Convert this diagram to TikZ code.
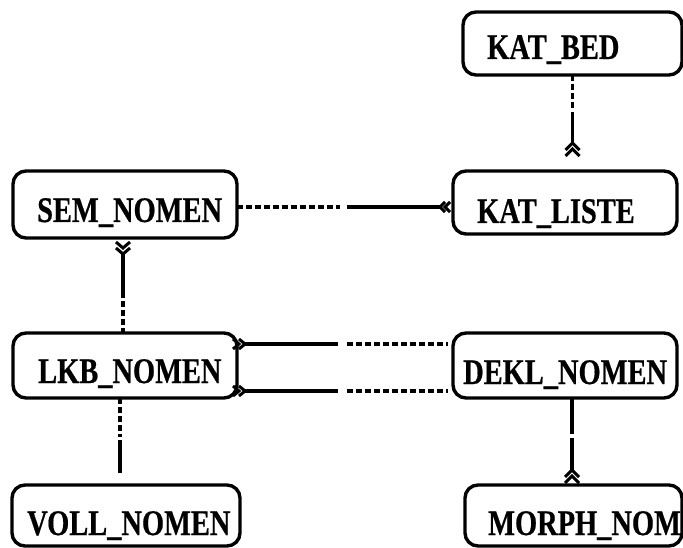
\documentclass[tikz,border=0pt]{standalone}
\usepackage{fontspec}
\usepackage{graphicx}
\newfontfamily\erfont[FakeStretch=0.79, BoldFeatures={FakeBold=0.5}]{Liberation Serif}
\usetikzlibrary{calc}

\tikzset{
  entity/.style={draw, line width=3.4pt, rounded corners=13pt, inner sep=0pt,
                 outer sep=0pt, anchor=north west},
  lbl/.style={anchor=base west, inner sep=0pt,
              font=\erfont\bfseries\fontsize{36}{40}\selectfont},
  rel/.style={line width=3.4pt},
  opt/.style={rel, dash pattern=on 6pt off 3pt},
  chev/.style={line width=3pt, line join=miter},
  % "many" ends: two stacked chevrons opening towards the entity
  pics/chevup/.style={code={
    \draw[chev] (-7,7) -- (0,0) -- (7,7);
    \draw[chev] (-7,13) -- (0,6) -- (7,13);}},
  pics/chevdown/.style={code={
    \draw[chev] (-7,-6) -- (0,0) -- (7,-6);
    \draw[chev] (-7,-12) -- (0,-6) -- (7,-12);}},
  pics/chevleft/.style={code={
    \draw[chev] (5,-5) -- (0,0) -- (5,5);
    \draw[chev] (10,-5) -- (5,0) -- (10,5);}},
  pics/chevright/.style={code={
    \draw[chev] (-6,-5) -- (0,0) -- (-6,5);
    \draw[chev] (-12,-5) -- (-6,0) -- (-12,5);}},
}

\begin{document}
\begin{tikzpicture}[x=1pt,y=-1pt]
\clip (0,0) rectangle (683,548);
\fill[white] (0,0) rectangle (683,548);

% entities
\node[entity, minimum width=219pt, minimum height=63pt] (kb)    at (463,12)  {};
\node[entity, minimum width=224pt, minimum height=63pt] (kl)    at (453,171) {};
\node[entity, minimum width=224pt, minimum height=67pt] (sem)   at (13,171)  {};
\node[entity, minimum width=224pt, minimum height=65pt] (lkb)   at (13,333)  {};
\node[entity, minimum width=224pt, minimum height=65pt] (dekl)  at (453,333) {};
\node[entity, minimum width=228pt, minimum height=61pt] (voll)  at (12,485)  {};
\node[entity, minimum width=217pt, minimum height=61pt] (morph) at (465,485) {};

% entity names
\node[lbl] (kb-t)    at (487,59)  {KAT\_BED};
\node[lbl] (kl-t)    at (477,223) {KAT\_LISTE};
\node[lbl] (sem-t)   at (37,222)  {SEM\_NOMEN};
\node[lbl] (lkb-t)   at (38,383)  {LKB\_NOMEN};
\node[lbl] (dekl-t)  at (463,384) {DEKL\_NOMEN};
\node[lbl] (voll-t)  at (27,535)  {VOLL\_NOMEN};
\node[lbl] (morph-t) at (488,535) {MORPH\_NOM};

% KAT_BED -- KAT_LISTE
\draw[opt] (kb.south) -- ($(kb.south)+(0,33)$);
\draw[rel] ($(kb.south)+(0,37)$) -- ($(kb.south |- kl.north)+(0,-28)$) pic{chevup};

% SEM_NOMEN -- KAT_LISTE
\draw[opt] ($(sem.east)+(0,2.5)$) -- ($(sem.east)+(103,2.5)$);
\draw[rel] ($(sem.east)+(110,2.5)$) -- ($(kl.west)+(-13,4.5)$) pic{chevleft};

% SEM_NOMEN -- LKB_NOMEN
\path ($(sem.south)+(-2,16)$) pic{chevdown};
\draw[rel] ($(sem.south)+(-2,16)$) -- ($(sem.south)+(-2,54)$);
\draw[opt] ($(sem.south)+(-2,54)$) -- ($(lkb.north)+(-2,0)$);

% LKB_NOMEN -- DEKL_NOMEN (two relationships)
\path ($(lkb.east)+(8,-21.5)$) pic{chevright};
\draw[rel] ($(lkb.east)+(8,-21.5)$) -- ($(lkb.east)+(101,-21.5)$);
\draw[opt] ($(dekl.west)+(-106,-21.5)$) -- ($(dekl.west)+(-5,-21.5)$);
\path ($(lkb.east)+(8,25.5)$) pic{chevright};
\draw[rel] ($(lkb.east)+(8,25.5)$) -- ($(lkb.east)+(101,25.5)$);
\draw[opt] ($(dekl.west)+(-106,25.5)$) -- ($(dekl.west)+(-5,25.5)$);

% LKB_NOMEN -- VOLL_NOMEN
\draw[opt] ($(lkb.south)+(-5,0)$) -- ($(lkb.south)+(-5,39)$);
\draw[rel] ($(lkb.south)+(-5,42)$) -- ($(voll.north)+(-6,-12)$);

% DEKL_NOMEN -- MORPH_NOM
\draw[rel] ($(dekl.south)+(7,0)$) -- ($(dekl.south)+(7,36)$);
\draw[rel] ($(dekl.south)+(7,40)$) -- ($(morph.north)+(-1.5,-15)$) pic{chevup};
\end{tikzpicture}
\end{document}
